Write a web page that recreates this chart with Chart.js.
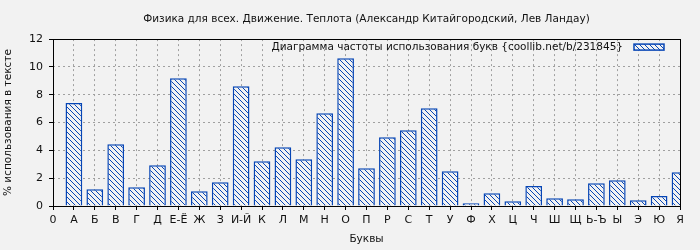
<!DOCTYPE html>
<html>
<head>
<meta charset="utf-8">
<script src="https://cdn.jsdelivr.net/npm/chart.js@4/dist/chart.umd.min.js"></script>
<style>
  html, body { margin: 0; padding: 0; background: #f2f2f2; }
  #wrap { width: 700px; height: 250px; }
</style>
</head>
<body>
<div id="wrap"><canvas id="chart" width="700" height="250"></canvas></div>
<script>
const letters = ['0', 'А', 'Б', 'В', 'Г', 'Д', 'Е-Ё', 'Ж', 'З', 'И-Й', 'К', 'Л', 'М', 'Н', 'О', 'П',
    'Р', 'С', 'Т', 'У', 'Ф', 'Х', 'Ц', 'Ч', 'Ш', 'Щ', 'Ь-Ъ', 'Ы', 'Э', 'Ю', 'Я'];
const usage = [null, 7.4, 1.2, 4.44, 1.34, 2.93, 9.19, 1.06, 1.7, 8.61, 3.21, 4.22, 3.36, 6.67, 10.63, 2.71,
    4.94, 5.45, 7.03, 2.5, 0.19, 0.91, 0.34, 1.44, 0.55, 0.48, 1.63, 1.85, 0.41, 0.72, 2.42];
const yTicksMax = 12;
const yStep = 2;

const chartTitle = 'Физика для всех. Движение. Теплота (Александр Китайгородский, Лев Ландау)';
const legendText = 'Диаграмма частоты использования букв {coollib.net/b/231845}';

const BLUE = '#0645b5';
const BG = '#f2f2f2';
const FONT = 'DejaVu Sans';

// hatch "\" pattern like gnuplot fill pattern
const makeHatch = (ctx) => {
    const s = 5;
    const c = document.createElement('canvas');
    c.width = s; c.height = s;
    const p = c.getContext('2d');
    p.fillStyle = BG;
    p.fillRect(0, 0, s, s);
    p.strokeStyle = BLUE;
    p.lineWidth = 1;
    p.beginPath();
    [-s, 0, s].forEach(k => { p.moveTo(k, 0); p.lineTo(k + s, s); });
    p.stroke();
    return ctx.createPattern(c, 'repeat');
};

const frameAndLegend = {
    id: 'frameAndLegend',
    afterDatasetsDraw(chart) {
        const { ctx, chartArea: a } = chart;
        ctx.save();
        ctx.strokeStyle = '#000';
        ctx.lineWidth = 1;
        ctx.strokeRect(Math.round(a.left) + 0.5, Math.round(a.top) + 0.5,
            Math.round(a.right - a.left), Math.round(a.bottom - a.top));

        // legend inside plot, text left of sample box
        const boxR = a.right - 16, boxW = 30, boxH = 6, cy = a.top + 8;
        ctx.font = `10.5px "${FONT}"`;
        ctx.fillStyle = '#111';
        ctx.textAlign = 'right';
        ctx.textBaseline = 'middle';
        ctx.fillText(legendText, boxR - boxW - 11, cy);
        ctx.fillStyle = hatch;
        ctx.fillRect(boxR - boxW, cy - boxH / 2, boxW, boxH);
        ctx.strokeStyle = BLUE;
        ctx.lineWidth = 1.5;
        ctx.strokeRect(boxR - boxW, cy - boxH / 2, boxW, boxH);
        ctx.restore();
    }
};

const canvas = document.getElementById('chart');
const hatch = makeHatch(canvas.getContext('2d'));

new Chart(canvas, {
    type: 'bar',
    data: {
        labels: letters,
        datasets: [{
            data: usage,
            backgroundColor: hatch,
            borderColor: BLUE,
            borderWidth: 1.5,
            barPercentage: 1,
            categoryPercentage: 0.8
        }]
    },
    options: {
        responsive: false,
        animation: false,
        devicePixelRatio: 1,
        layout: { padding: { left: 0, right: 20, top: 0, bottom: 2 } },
        plugins: {
            legend: { display: false },
            tooltip: { enabled: false },
            title: {
                display: true,
                text: chartTitle,
                fullSize: false,
                color: '#111',
                font: { family: FONT, size: 10.5, weight: 'normal' },
                padding: { top: 13, bottom: 13.5 }
            }
        },
        scales: {
            x: {
                type: 'category',
                offset: false,
                grid: { offset: false, color: '#a0a0a0', tickColor: '#000', tickLength: 4, tickBorderDash: [] },
                border: { display: false, dash: [2, 3] },
                ticks: { color: '#111', font: { family: FONT, size: 11 }, padding: 4, maxRotation: 0, autoSkip: false },
                title: { display: true, text: 'Буквы', color: '#111', font: { family: FONT, size: 10.5 }, padding: { top: 0, bottom: 2 } },
                afterFit: (s) => { s.height = 42; }
            },
            y: {
                min: 0,
                max: yTicksMax,
                grid: { color: '#a0a0a0', tickColor: '#000', tickLength: 4, tickBorderDash: [] },
                border: { display: false, dash: [2, 3] },
                ticks: { stepSize: yStep, color: '#111', font: { family: FONT, size: 11 }, padding: 6 },
                title: { display: true, text: '% использования в тексте', color: '#111', font: { family: FONT, size: 10.5 }, padding: { top: 2, bottom: 0 } },
                afterFit: (s) => { s.width = 53; }
            }
        }
    },
    plugins: [frameAndLegend]
});
</script>
</body>
</html>
